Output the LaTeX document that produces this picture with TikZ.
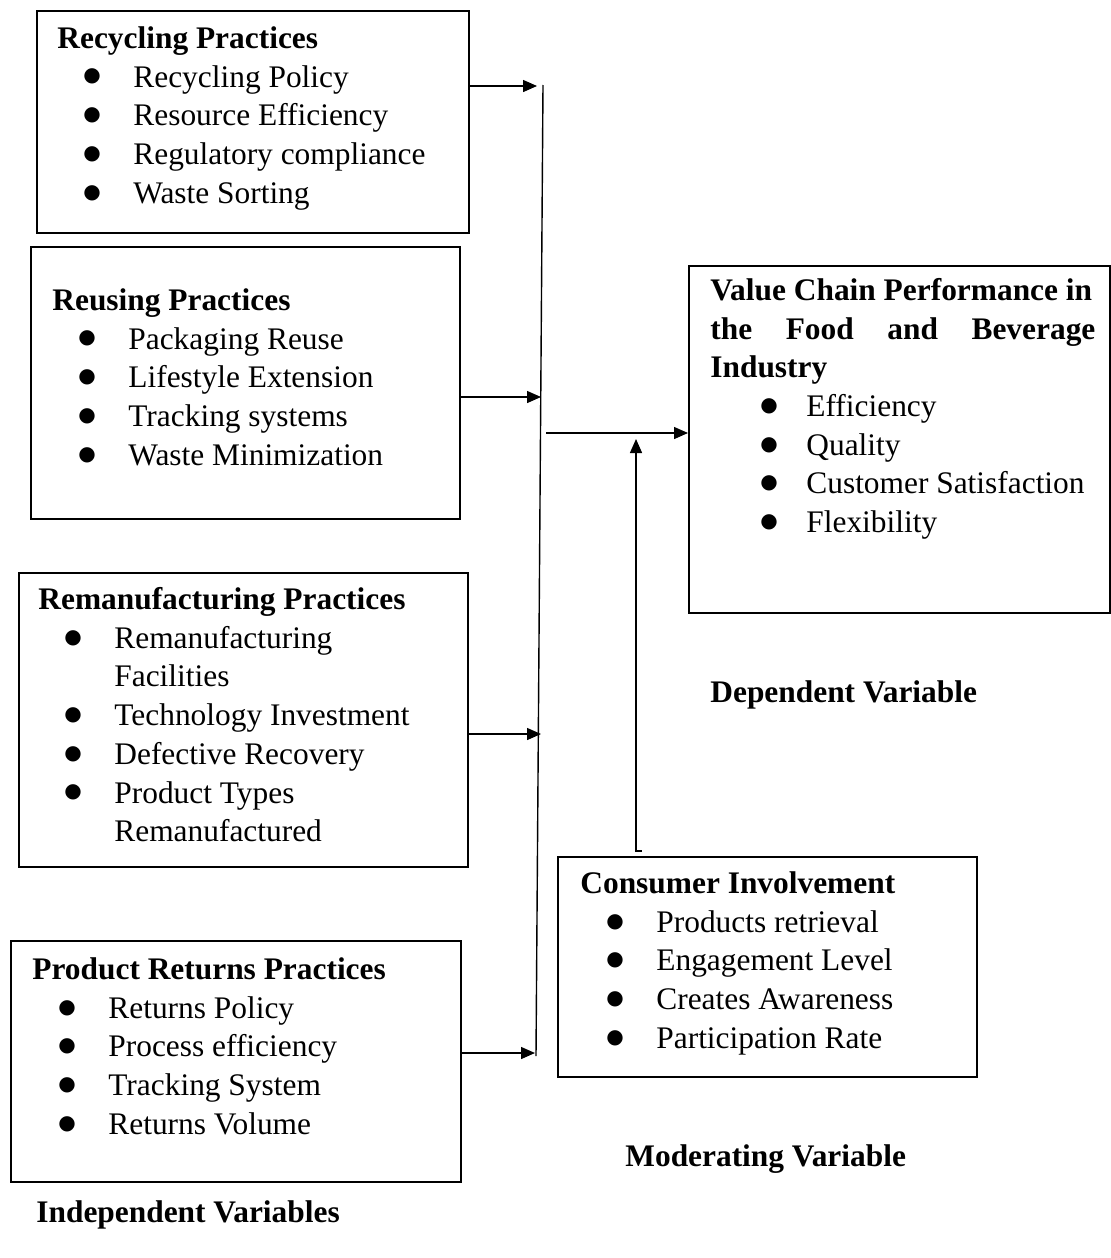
\documentclass[tikz,border=0pt]{standalone}
\usepackage{fontspec}
\setmainfont{Liberation Serif}
\newfontfamily\symfont{DejaVu Sans}
\usetikzlibrary{arrows.meta}
\newcommand{\bigdot}{\raisebox{2.6pt}{\symfont\fontsize{10}{10}\selectfont ●}}
\newcommand{\bx}[1]{\hspace*{13pt}\makebox[25pt][l]{\bigdot}#1}
\newcommand{\bxw}[1]{\hspace*{25pt}\makebox[23pt][l]{\bigdot}#1}

\begin{document}
\begin{tikzpicture}[x=0.5pt,y=-0.5pt,
    rect/.style={draw, line width=1pt, rectangle, anchor=north west, inner sep=0pt},
    txt/.style={anchor=north west, inner sep=0pt, align=left, font=\fontsize{15.7}{19.35}\selectfont},
    lbl/.style={anchor=base west, inner sep=0pt, font=\fontsize{15.7}{19.35}\selectfont\bfseries},
    conn/.style={line width=0.7pt, -{Triangle[length=7pt,width=6pt]}}]
    \useasboundingbox (0,0) rectangle (1110,1258);

    % Independent variables
    \node[rect, minimum width=216pt, minimum height=111pt] (rec) at (36,10) {};
    \node[rect, minimum width=214.5pt, minimum height=136pt] (reu) at (30,246) {};
    \node[rect, minimum width=224.5pt, minimum height=147pt] (rem) at (18,572) {};
    \node[rect, minimum width=225pt, minimum height=120.5pt] (ret) at (10,940) {};

    \node[txt] (rec-txt) at (57,21) {\strut\textbf{Recycling Practices}\\
        \bx{Recycling Policy}\\ \bx{Resource Efficiency}\\
        \bx{Regulatory compliance}\\ \bx{Waste Sorting}};
    \node[txt] (reu-txt) at (52,283) {\strut\textbf{Reusing Practices}\\
        \bx{Packaging Reuse}\\ \bx{Lifestyle Extension}\\
        \bx{Tracking systems}\\ \bx{Waste Minimization}};
    \node[txt] (rem-txt) at (38,582) {\strut\textbf{Remanufacturing Practices}\\
        \bx{Remanufacturing}\\ \hspace*{38pt}Facilities\\
        \bx{Technology Investment}\\ \bx{Defective Recovery}\\
        \bx{Product Types}\\ \hspace*{38pt}Remanufactured};
    \node[txt] (ret-txt) at (32,952) {\strut\textbf{Product Returns Practices}\\
        \bx{Returns Policy}\\ \bx{Process efficiency}\\
        \bx{Tracking System}\\ \bx{Returns Volume}};

    % Dependent variable
    \node[rect, minimum width=210.5pt, minimum height=173.5pt] (vcp) at (688,265) {};
    \node[txt] (vcp-txt) at (710,273) {\strut\textbf{Value Chain Performance in}\\
        \makebox[192.5pt][s]{\textbf{the Food and Beverage}}\\ \textbf{Industry}\\
        \bxw{Efficiency}\\ \bxw{Quality}\\
        \bxw{Customer Satisfaction}\\ \bxw{Flexibility}};

    % Moderating variable
    \node[rect, minimum width=209.5pt, minimum height=110pt] (cons) at (557,856) {};
    \node[txt] (cons-txt) at (580,866) {\strut\textbf{Consumer Involvement}\\
        \bx{Products retrieval}\\ \bx{Engagement Level}\\
        \bx{Creates Awareness}\\ \bx{Participation Rate}};

    % Captions
    \node[lbl] (dep) at (710,702) {Dependent Variable};
    \node[lbl] (mod) at (625,1166) {Moderating Variable};
    \node[lbl] (ind) at (36,1222) {Independent Variables};

    % Connectors
    \coordinate (busTop) at (543,85);
    \coordinate (busBot) at (536,1056);
    \coordinate (in1) at (537,86);
    \coordinate (in2) at (541,397);
    \coordinate (in3) at (541,734);
    \coordinate (in4) at (535,1053);
    \coordinate (out) at (546,433);
    \coordinate (modFoot) at (642,851);
    \coordinate (modTip) at (636,439);

    \draw[line width=0.7pt] (busTop) -- (busBot);
    \draw[conn] (rec.east |- in1) -- (in1);
    \draw[conn] (reu.east |- in2) -- (in2);
    \draw[conn] (rem.east |- in3) -- (in3);
    \draw[conn] (ret.east |- in4) -- (in4);
    \draw[conn] (out) -- (vcp.west |- out);
    \draw[conn] (modFoot) -- (modFoot -| modTip) -- (modTip);

\end{tikzpicture}
\end{document}
